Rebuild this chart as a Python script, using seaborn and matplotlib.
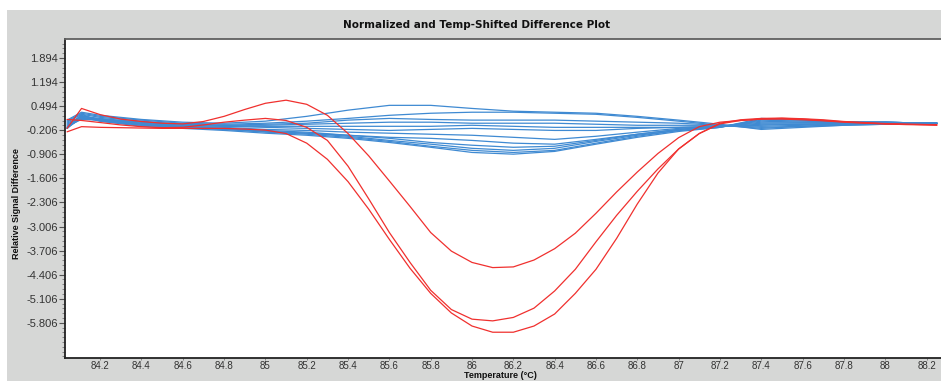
import pandas as pd
import seaborn as sb
import matplotlib.pyplot as plt
from matplotlib.patches import Rectangle
from matplotlib.ticker import AutoMinorLocator

# Temperature grids (deg C)
temps_red = [84.04, 84.11, 84.2, 84.3, 84.4, 84.5, 84.6, 84.7, 84.8, 84.9, 85.0,
             85.1, 85.2, 85.3, 85.4, 85.5, 85.6, 85.7, 85.8, 85.9, 86.0, 86.1,
             86.2, 86.3, 86.4, 86.5, 86.6, 86.7, 86.8, 86.9, 87.0, 87.1, 87.2,
             87.3, 87.4, 87.5, 87.6, 87.7, 87.8, 87.9, 88.0, 88.1, 88.2, 88.25]
temps_blue = [84.04, 84.11, 84.2, 84.4, 84.6, 84.8, 85.0, 85.2, 85.4, 85.6, 85.8, 86.0,
              86.2, 86.4, 86.6, 86.8, 87.0, 87.2, 87.4, 87.6, 87.8, 88.0, 88.2, 88.25]

# Red curves (samples that differ)
red_a = [-0.15, 0.43, 0.25, 0.12, 0.05, 0.00, -0.02, 0.05, 0.20, 0.40, 0.58, 0.67, 0.55,
         0.23, -0.30, -0.95, -1.68, -2.42, -3.18, -3.72, -4.05, -4.20, -4.18, -3.98, -3.65,
         -3.20, -2.62, -2.00, -1.42, -0.88, -0.42, -0.10, 0.03, 0.08, 0.12, 0.14, 0.12, 0.08,
         0.04, 0.01, -0.02, -0.03, -0.04, -0.04]
red_b = [0.11, 0.08, 0.02, -0.05, -0.10, -0.13, -0.12, -0.05, 0.03, 0.09, 0.14, 0.08, -0.12,
         -0.50, -1.25, -2.20, -3.18, -4.05, -4.86, -5.42, -5.70, -5.75, -5.65, -5.38, -4.88,
         -4.25, -3.45, -2.68, -1.98, -1.33, -0.75, -0.30, 0.00, 0.10, 0.14, 0.15, 0.13, 0.10,
         0.05, 0.02, -0.01, -0.03, -0.04, -0.05]
red_c = [-0.25, -0.10, -0.12, -0.13, -0.14, -0.15, -0.15, -0.15, -0.15, -0.17, -0.20, -0.30,
         -0.58, -1.05, -1.70, -2.50, -3.38, -4.22, -4.95, -5.52, -5.90, -6.08, -6.08, -5.90,
         -5.55, -4.95, -4.25, -3.35, -2.35, -1.45, -0.75, -0.30, -0.02, 0.08, 0.12, 0.12, 0.10,
         0.07, 0.03, 0.00, -0.02, -0.04, -0.05, -0.06]

# Blue curves (reference-like samples)
blue_01 = [0.09, 0.32, 0.23, 0.11, 0.03, 0.00, 0.06, 0.20, 0.38, 0.52, 0.52, 0.43,
           0.35, 0.32, 0.29, 0.20, 0.09, -0.03, -0.18, -0.12, -0.06, -0.03, 0.00, 0.00]
blue_02 = [0.06, 0.29, 0.20, 0.09, 0.00, -0.03, 0.00, 0.06, 0.14, 0.23, 0.29, 0.32,
           0.32, 0.29, 0.26, 0.17, 0.06, -0.06, -0.15, -0.09, -0.06, -0.03, 0.00, 0.00]
blue_03 = [0.03, 0.26, 0.17, 0.06, -0.03, -0.06, -0.03, 0.00, 0.09, 0.14, 0.11, 0.09,
           0.09, 0.09, 0.06, 0.03, 0.00, -0.06, -0.12, -0.09, -0.03, -0.03, 0.00, 0.00]
blue_04 = [0.00, 0.20, 0.14, 0.03, -0.03, -0.06, -0.06, -0.03, 0.00, 0.03, 0.03, 0.00,
           0.00, 0.00, -0.03, -0.06, -0.06, -0.06, -0.09, -0.06, -0.03, 0.00, 0.00, 0.00]
blue_05 = [-0.03, 0.17, 0.11, 0.03, -0.06, -0.09, -0.09, -0.09, -0.09, -0.09, -0.09, -0.06,
           -0.09, -0.12, -0.12, -0.12, -0.12, -0.09, -0.06, -0.03, -0.03, 0.00, 0.00, 0.00]
blue_06 = [-0.06, 0.14, 0.11, 0.00, -0.06, -0.09, -0.12, -0.15, -0.18, -0.21, -0.18, -0.15,
           -0.18, -0.21, -0.21, -0.15, -0.12, -0.09, -0.03, -0.03, 0.00, 0.00, 0.00, 0.00]
blue_07 = [-0.09, 0.11, 0.09, 0.00, -0.09, -0.12, -0.18, -0.21, -0.26, -0.29, -0.32, -0.35,
           -0.41, -0.47, -0.38, -0.26, -0.15, -0.09, 0.00, 0.00, 0.00, 0.00, 0.00, 0.00]
blue_08 = [-0.12, 0.20, 0.11, -0.03, -0.09, -0.15, -0.21, -0.26, -0.35, -0.41, -0.44, -0.50,
           -0.58, -0.61, -0.47, -0.32, -0.18, -0.09, 0.03, 0.03, 0.03, 0.03, 0.00, 0.00]
blue_09 = [-0.12, 0.14, 0.09, -0.03, -0.12, -0.15, -0.24, -0.29, -0.35, -0.44, -0.56, -0.64,
           -0.70, -0.67, -0.50, -0.32, -0.18, -0.09, 0.06, 0.03, 0.03, 0.03, 0.00, 0.00]
blue_10 = [-0.15, 0.23, 0.09, -0.06, -0.12, -0.18, -0.24, -0.29, -0.38, -0.50, -0.61, -0.73,
           -0.79, -0.73, -0.53, -0.35, -0.21, -0.12, 0.09, 0.06, 0.03, 0.03, 0.00, 0.00]
blue_11 = [-0.15, 0.17, 0.06, -0.06, -0.12, -0.18, -0.26, -0.32, -0.41, -0.53, -0.67, -0.79,
           -0.85, -0.79, -0.58, -0.38, -0.21, -0.12, 0.11, 0.09, 0.03, 0.03, 0.00, 0.00]
blue_12 = [-0.15, 0.26, 0.06, -0.09, -0.15, -0.21, -0.29, -0.35, -0.44, -0.56, -0.70, -0.85,
           -0.90, -0.82, -0.61, -0.41, -0.24, -0.12, 0.14, 0.09, 0.03, 0.03, 0.00, 0.00]

y_ticks = [-5.806, -5.106, -4.406, -3.706, -3.006, -2.306, -1.606, -0.906, -0.206,
           0.494, 1.194, 1.894]
x_ticks = [84.2, 84.4, 84.6, 84.8, 85.0, 85.2, 85.4, 85.6, 85.8, 86.0, 86.2, 86.4,
           86.6, 86.8, 87.0, 87.2, 87.4, 87.6, 87.8, 88.0, 88.2]

# Long-form table for seaborn
red_curves = {'red_a': red_a, 'red_b': red_b, 'red_c': red_c}
blue_curves = {'blue_01': blue_01, 'blue_02': blue_02, 'blue_03': blue_03,
               'blue_04': blue_04, 'blue_05': blue_05, 'blue_06': blue_06,
               'blue_07': blue_07, 'blue_08': blue_08, 'blue_09': blue_09,
               'blue_10': blue_10, 'blue_11': blue_11, 'blue_12': blue_12}
frames = []
for name, vals in blue_curves.items():
    frames.append(pd.DataFrame({'temp': temps_blue, 'diff': vals, 'curve': name, 'group': 'blue'}))
for name, vals in red_curves.items():
    frames.append(pd.DataFrame({'temp': temps_red, 'diff': vals, 'curve': name, 'group': 'red'}))
data = pd.concat(frames, ignore_index=True)

sb.set_style("white")
plt.rcParams['font.family'] = ['Liberation Sans', 'DejaVu Sans']

W, H = 941, 381
fig = plt.figure(figsize=(W / 100, H / 100), dpi=100)
fig.patch.set_facecolor('white')
# grey panel behind everything
fig.patches.append(Rectangle((7 / W, 0), 1, (H - 10) / H, transform=fig.transFigure,
                             facecolor='#d6d7d6', edgecolor='none', zorder=-10))

ax = fig.add_axes([65 / W, (H - 358) / H, (W - 65) / W, (358 - 39) / H])
ax.set_facecolor('white')

sb.lineplot(data=data, x='temp', y='diff', hue='group', units='curve', estimator=None,
            sort=False, hue_order=['blue', 'red'],
            palette={'blue': '#3f8ad2', 'red': '#f0302e'},
            linewidth=0.9, legend=False, ax=ax)

ax.set_xlim(84.03, 88.27)
ax.set_ylim(-6.83, 2.45)

ax.set_yticks(y_ticks)
ax.set_yticklabels([f"{v:.3f}" for v in y_ticks])
ax.set_xticks(x_ticks)
ax.set_xticklabels([f"{v:g}" for v in x_ticks])
ax.yaxis.set_minor_locator(AutoMinorLocator(5))
ax.tick_params(axis='y', which='major', direction='out', length=4, width=0.8,
               color='#555555', labelsize=8, labelcolor='#333333', pad=1, left=True)
ax.tick_params(axis='y', which='minor', direction='out', length=2, width=0.6,
               color='#777777', left=True)
ax.tick_params(axis='x', which='major', direction='out', length=1.5, width=0.6,
               color='#777777', labelsize=7, labelcolor='#333333', pad=0.5, bottom=True)
ax.set_xlabel('')
ax.set_ylabel('')

for side in ['left', 'bottom', 'top']:
    ax.spines[side].set_visible(True)
    ax.spines[side].set_color('#222222')
    ax.spines[side].set_linewidth(1.3)
ax.spines['top'].set_color('#606060')
ax.spines['right'].set_visible(False)

# Titles and labels
fig.text(477 / W, 1 - 25 / H, "Normalized and Temp-Shifted Difference Plot",
         ha='center', va='center', fontsize=7.5, fontweight='bold', color='#111111',
         family=['DejaVu Sans'])
fig.text(17 / W, 1 - 204 / H, "Relative Signal Difference", rotation=90,
         ha='center', va='center', fontsize=6.5, fontweight='bold', color='#111111',
         family=['Liberation Sans Narrow', 'Liberation Sans'])
fig.text(500 / W, 0.5 / H, "Temperature (°C)", ha='center', va='bottom',
         fontsize=6.5, fontweight='bold', color='#111111')

fig.savefig('out.png', dpi=100)
